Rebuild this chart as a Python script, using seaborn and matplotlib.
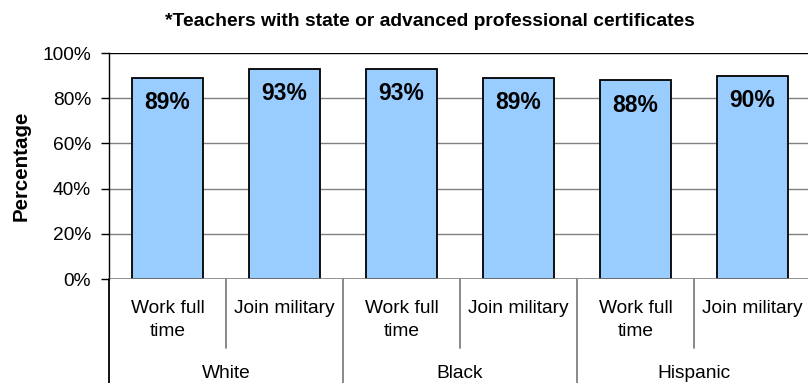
import matplotlib
matplotlib.use("Agg")
import matplotlib.pyplot as plt
import matplotlib.transforms as mtransforms
from matplotlib.lines import Line2D
from matplotlib.ticker import PercentFormatter
import seaborn as sns
import pandas as pd

# Chart data
groups = ["White", "Black", "Hispanic"]
plans = ["Work full\ntime", "Join military"]
values = [89, 93, 93, 89, 88, 90]
title = "*Teachers with state or advanced professional certificates"
ylabel = "Percentage"

cats = [f"{g}|{p}" for g in groups for p in plans]
df = pd.DataFrame({"cat": cats, "value": [v / 100 for v in values]})

sns.set_style("white")
plt.rcParams["font.family"] = ["Liberation Sans", "DejaVu Sans"]
plt.rcParams["text.color"] = "black"
plt.rcParams["axes.labelcolor"] = "black"
plt.rcParams["ytick.color"] = "black"

W, H = 808, 383
fig = plt.figure(figsize=(W / 100, H / 100), dpi=100)
left, right, top, bottom = 109, 811, 53, 279
ax = fig.add_axes([left / W, 1 - bottom / H, (right - left) / W, (bottom - top) / H])

sns.barplot(data=df, x="cat", y="value", order=cats, color="#99CCFF",
            edgecolor="black", linewidth=1.3, width=0.6, saturation=1, ax=ax)

ax.set_xlim(-0.5, len(cats) - 0.5)
ax.set_ylim(0, 1)
ax.set_yticks([0, 0.2, 0.4, 0.6, 0.8, 1.0])
ax.yaxis.set_major_formatter(PercentFormatter(1.0, decimals=0))
ax.tick_params(axis="y", labelsize=13.8, length=6, width=1, color="black",
               left=True, pad=7, labelcolor="black")
ax.set_xticks([])
ax.set_xlabel("")
ax.set_ylabel(ylabel, fontsize=14.8, fontweight="bold", labelpad=8,
              color="black")

# Horizontal gridlines behind bars
for y in [0.2, 0.4, 0.6, 0.8]:
    ax.axhline(y, color="#808080", lw=1, zorder=0)
ax.axhline(1.0, color="black", lw=1, zorder=0)
ax.axhline(0.0, color="#808080", lw=1.2, zorder=3)

for s in ["top", "right", "bottom"]:
    ax.spines[s].set_visible(False)
ax.spines["left"].set_color("black")
ax.spines["left"].set_linewidth(1)

# Value labels inside the top of each bar
for i, v in enumerate(values):
    ax.annotate(f"{v}%", xy=(i, v / 100), xytext=(0, -25),
                textcoords="offset pixels", ha="center", va="center",
                fontsize=16.5, fontweight="bold", color="black")

# Two-level category axis below the plot
trans = mtransforms.blended_transform_factory(ax.transData, fig.transFigure)
fy = lambda py: 1 - py / H

for i, c in enumerate(cats):
    plan = c.split("|")[1]
    ax.text(i, fy(300), plan, transform=trans, ha="center", va="top",
            fontsize=13.8, linespacing=1.5, color="black")

for k, g in enumerate(groups):
    ax.text(2 * k + 0.5, fy(373), g, transform=trans, ha="center",
            va="center", fontsize=13.8, color="black")

for k in range(len(groups)):
    x = 2 * k + 0.5
    fig.add_artist(Line2D([x, x], [fy(bottom), fy(348)], transform=trans,
                          color="#808080", lw=1.3))
for k in range(len(groups) + 1):
    x = 2 * k - 0.5
    fig.add_artist(Line2D([x, x], [fy(bottom), 0], transform=trans,
                          color="black" if k == 0 else "#808080", lw=1.3))

fig.text(430 / W, fy(22), title, ha="center", va="center",
         fontsize=13.9, fontweight="bold", color="black")

fig.savefig("out.png", dpi=100)
